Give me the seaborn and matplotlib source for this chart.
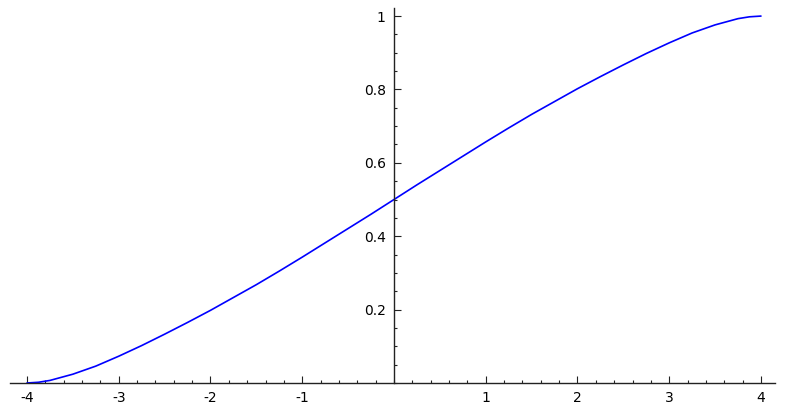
import matplotlib
matplotlib.use("Agg")
import matplotlib.pyplot as plt
import seaborn as sns
import numpy as np
from matplotlib.ticker import MultipleLocator, FixedLocator

x_vals = [-4.0, -3.875, -3.75, -3.5, -3.25, -3.0, -2.75, -2.5, -2.25, -2.0, -1.75, -1.5,
          -1.25, -1.0, -0.75, -0.5, -0.25, 0.0, 0.25, 0.5, 0.75, 1.0, 1.25, 1.5,
          1.75, 2.0, 2.25, 2.5, 2.75, 3.0, 3.25, 3.5, 3.75, 3.875, 4.0]
y_vals = [0.0, 0.002, 0.007, 0.024, 0.046, 0.073, 0.102, 0.133, 0.165, 0.198, 0.233, 0.268,
          0.305, 0.343, 0.382, 0.421, 0.460, 0.5, 0.540, 0.579, 0.618, 0.657, 0.695, 0.732,
          0.767, 0.802, 0.835, 0.867, 0.898, 0.927, 0.954, 0.976, 0.993, 0.998, 1.0]
x_ticks = [-4, -3, -2, -1, 1, 2, 3, 4]
x_tick_labels = ["-4", "-3", "-2", "-1", "1", "2", "3", "4"]
y_ticks = [0.2, 0.4, 0.6, 0.8, 1.0]
y_tick_labels = ["0.2", "0.4", "0.6", "0.8", "1"]

sns.set_style("white")
plt.rcParams['font.family'] = ['DejaVu Sans']

fig = plt.figure(figsize=(7.85, 4.13), dpi=100)
ax = fig.add_axes([10/785, 30/413, 765/785, 375/413])

sns.lineplot(x=x_vals, y=y_vals, color=(0, 0, 1), linewidth=1.2, ax=ax,
             solid_joinstyle='round')

ax.set_xlim(-4.185, 4.153)
ax.set_ylim(0, 1.022)

for s in ['top', 'right']:
    ax.spines[s].set_visible(False)
ax.spines['left'].set_position(('data', 0))
ax.spines['bottom'].set_position(('data', 0))
for s in ['left', 'bottom']:
    ax.spines[s].set_color('#222222')
    ax.spines[s].set_linewidth(1.0)

ax.xaxis.set_major_locator(FixedLocator(x_ticks))
ax.set_xticklabels(x_tick_labels)
ax.yaxis.set_major_locator(FixedLocator(y_ticks))
ax.set_yticklabels(y_tick_labels)
ax.xaxis.set_minor_locator(MultipleLocator(0.2))
ax.yaxis.set_minor_locator(MultipleLocator(0.05))

ax.tick_params(axis='both', which='major', direction='in', length=5, width=0.8,
               color='#222222', labelsize=10, labelcolor='black', pad=6)
ax.tick_params(axis='both', which='minor', direction='in', length=2.5, width=0.8,
               color='#222222')
ax.tick_params(axis='x', bottom=True, which='both')
ax.tick_params(axis='y', left=True, which='both')
ax.grid(False)

fig.savefig("out.png", dpi=100)
